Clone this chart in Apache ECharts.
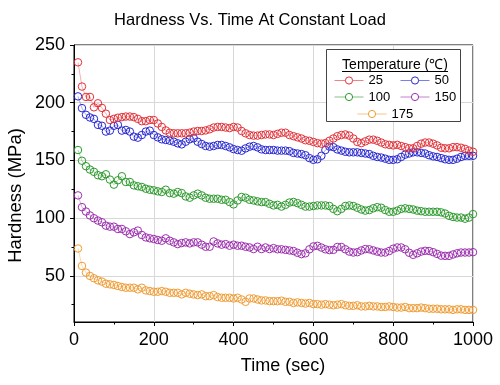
<!DOCTYPE html>
<html>
<head>
<meta charset="utf-8">
<script src="https://cdn.jsdelivr.net/npm/echarts@6/dist/echarts.min.js"></script>
<style>html,body{margin:0;padding:0;background:#fff;}#c{width:500px;height:385px;}</style>
</head>
<body>
<div id="c"></div>
<script>
const times = [10,20,30,40,50,60,70,80,90,100,110,120,130,140,150,160,170,180,190,200,210,220,230,240,250,260,270,280,290,300,310,320,330,340,350,360,370,380,390,400,410,420,430,440,450,460,470,480,490,500,510,520,530,540,550,560,570,580,590,600,610,620,630,640,650,660,670,680,690,700,710,720,730,740,750,760,770,780,790,800,810,820,830,840,850,860,870,880,890,900,910,920,930,940,950,960,970,980,990,1000];
const seriesNames = ['25','50','100','150','175'];
const h25 = [235,214,205,205,196,199.5,195.5,190.5,185,186, 187,187.5,188,188,187.5,186,184,184,185,185, 182,179,176,174,173.5,173.5,173.5,173.5,174,175, 175.5,175.5,176,177,178.5,179,179,178.5,178,179, 178.5,175.5,173.5,172,171.5,171.5,172,172.5,172.5,172, 173,174,174,172,171,170,169,167.5,167,166, 165,164.5,165,167,169,171,172,172.5,171.5,169, 166,165,166.5,168,168,167,165.5,164,163.5,163, 163.5,162.5,161.5,160.5,160.5,162.5,164.5,165.5,165.5,164.5, 163,161,160.5,160.5,161.5,161.5,161,160,158.5,157.5];
const h50 = [205.5,195.3,189.5,187.2,186,180.8,180,175,175.8,180, 180.8,175.8,176.4,175,170.6,169.7,172,175,175.8,172, 170,168.3,167.7,167.1,166.2,164.8,163.9,166.2,168.3,169.2, 166.2,164.2,162.5,161.9,162.5,163.4,163.4,162.5,161.3,159.8, 159,158.4,160.4,161.9,162.5,161.3,159.6,159,159,159, 158.5,158.5,158.5,158,156.5,156,155.5,154.5,152,150.5, 151,154,159,162,161.5,159.5,158.5,157.5,157,157, 157,156.5,156,155.5,154,153,152.5,151.5,150.5,150.5, 151,153,155,156,157,157,156.5,156,154.5,153.5, 153,152,151,150.5,150.5,151.5,153,154,154,154];
const h100 = [159,149.7,145,142.1,140.1,137.2,136.3,138,133.4,129, 132.8,136.3,131.3,131.3,128.4,127.6,127,125.5,124.6,124.1, 123.2,122.6,124.6,121.7,121.2,122.6,121.7,118.8,117.7,119.7, 121.2,119.7,117.7,116.8,116.8,116.8,115.9,115.9,113.9,111.9, 115.3,118.3,117.7,115.9,115.3,114.5,113.9,113.9,112.4,111, 111.5,110,111.5,113.5,114,113,111.5,110,110,110.5, 111,111,111,110.5,108,106,108,110.5,111,110.5, 109,107.5,106.5,107,108.5,109.5,109,107,105.5,105.5, 106.5,108,108.5,108,107.5,106.5,106,105.5,105.5,105.5, 105.5,105,104,102,101,100.5,100.5,99.5,100.5,103.5];
const h150 = [119.7,109.5,105.7,102.3,99.9,97.9,96.4,93.5,92.6,92.6, 90.6,90.6,88.6,86.2,87.7,89.2,85.4,83.3,82.5,81.9, 81,80.4,82.5,80.4,79,77.5,78.4,79,78.1,79, 79,77,75.2,75.2,79.8,78.1,77,77.5,76.1,77, 76.1,76.1,75.2,74.6,73.2,75.2,73.2,74.6,73.2,74, 73,73,72.5,72,71.5,70,68.8,69.5,73,75.5, 76,74.5,73,72.3,72.5,75,75,73,71,70.2, 70.5,72,73.2,73,72,71,70.2,70.2,71.5,73.5, 74.6,74.6,73,70,68.2,69.5,71,71.7,71.5,70.5, 69,67.5,67.3,67.3,68.5,69.5,70.2,70.2,70.2,70.5];
const h175 = [73.7,58.6,52.8,49.9,47.9,46.1,45,43.2,42.6,42.1, 41.2,40.3,39.7,39.7,39.7,38.3,39.7,37.4,36.8,36.2, 36.2,36.8,36.2,35.3,35.3,35.3,33.9,35.3,34.5,33.9, 33.3,33.9,32.4,32.4,33.3,31.6,31,31,31,30.4, 31,29.5,27.5,30.4,30.4,29.5,28.7,28.7,28.1,28.1, 28,28.5,27.5,27.5,26.5,27,26.5,26,26.5,25.5, 25.5,25,25.5,25,24.5,25,25.5,24.5,24,24, 24.5,23.5,23.5,24,23.5,23.5,23,23,23.5,23, 22.5,22.5,23,22,22,22,22.5,22,21.5,21.5, 21.5,21,21,21,20.5,21,21,20.5,20.5,20.5];
const xTicks = [0,200,400,600,800,1000];
const yLabelTicks = [50,100,150,200,250];
const yMinorTicks = [25,75,125,175,225];

const FONT = "'Liberation Sans', Arial, sans-serif";
const colors = ['#e2323a','#2828d2','#2e9a2e','#9c2fae','#f09c34'];
const allData = [h25,h50,h100,h150,h175];

const chart = echarts.init(document.getElementById('c'), null, {renderer:'canvas'});

const series = seriesNames.map((n,k)=>({
  name: n,
  type: 'line',
  data: times.map((t,i)=>[t, allData[k][i]]),
  symbol: 'circle',
  symbolSize: 7.5,
  showSymbol: true,
  itemStyle: {color: 'rgba(255,255,255,0)', borderColor: colors[k], borderWidth: 1},
  lineStyle: {color: colors[k], width: 0.7, opacity: 0.55},
  emphasis: {disabled: true},
  z: 2 + (4-k)
}));

const legendPos = [
  {name:'25', left:334, top:74},
  {name:'50', left:400, top:74},
  {name:'100', left:334, top:90.5},
  {name:'150', left:400, top:90.5},
  {name:'175', left:357, top:107.5}
];

const option = {
  animation: false,
  backgroundColor: '#fff',
  title: {
    text: 'Hardness Vs. Time At Constant Load',
    left: 'center', top: 12, padding: 0,
    textStyle: {fontSize: 16.5, fontWeight: 'normal', color: '#000', fontFamily: FONT}
  },
  grid: {left: 74, right: 27, top: 45, bottom: 63, show: true, borderColor: '#000', borderWidth: 1, backgroundColor: 'transparent'},
  xAxis: {
    type: 'value', min: 0, max: 1000, interval: 200,
    axisLine: {show: true, lineStyle: {color: '#000', width: 1}},
    axisTick: {show: true, inside: false, length: 4, lineStyle: {color: '#000'}},
    minorTick: {show: true, splitNumber: 2, length: 2.5, lineStyle: {color: '#000'}},
    axisLabel: {fontSize: 18, color: '#000', margin: 9, fontFamily: FONT, customValues: xTicks, formatter: v => String(v)},
    splitLine: {show: true, lineStyle: {color: '#d8d8d8', width: 1}},
    minorSplitLine: {show: false}
  },
  yAxis: [{
    type: 'value', min: 10, max: 250, position: 'left',
    axisLine: {show: true, lineStyle: {color: '#000', width: 1}},
    axisTick: {show: true, inside: false, length: 4, customValues: yLabelTicks, lineStyle: {color: '#000'}},
    axisLabel: {fontSize: 18, color: '#000', margin: 9, fontFamily: FONT, customValues: yLabelTicks, formatter: v => String(v)},
    splitLine: {show: true, lineStyle: {color: '#d8d8d8', width: 1}}
  },{
    type: 'value', min: 10, max: 250, position: 'left', offset: 0,
    axisLine: {show: false},
    axisTick: {show: true, inside: false, length: 2.5, customValues: yMinorTicks, lineStyle: {color: '#000'}},
    axisLabel: {show: false},
    splitLine: {show: false}
  }],
  legend: legendPos.map(p=>({
    data: [p.name], left: p.left, top: p.top, padding: 0, itemGap: 0,
    itemWidth: 29, itemHeight: 9,
    itemStyle: {color: '#fff', borderWidth: 1},
    lineStyle: {width: 1, opacity: 0.6},
    textStyle: {fontSize: 13, color: '#000', fontFamily: FONT},
    selectedMode: false, z: 12
  })),
  graphic: [
    {type:'rect', z: 10, shape:{x:326.5, y:49.5, width:134, height:72}, style:{fill:'#fff', stroke:'#444', lineWidth:1}},
    {type:'text', z: 11, x: 395, y: 65, style:{text:'Temperature (℃)', textAlign:'center', textVerticalAlign:'middle', fontSize:14, fill:'#000', fontFamily: FONT}},
    {type:'line', z: 11, shape:{x1:342, y1:71.5, x2:448, y2:71.5}, style:{stroke:'#000', lineWidth:1}},
    {type:'text', z: 11, x: 15.5, y: 195.5, rotation: Math.PI/2, style:{text:'Hardness (MPa)', textAlign:'center', textVerticalAlign:'middle', fontSize:18.5, fill:'#000', fontFamily: FONT}},
    {type:'text', z: 11, x: 283, y: 366, style:{text:'Time (sec)', textAlign:'center', textVerticalAlign:'middle', fontSize:18, fill:'#000', fontFamily: FONT}}
  ],
  series: series
};
chart.setOption(option);
</script>
</body>
</html>
